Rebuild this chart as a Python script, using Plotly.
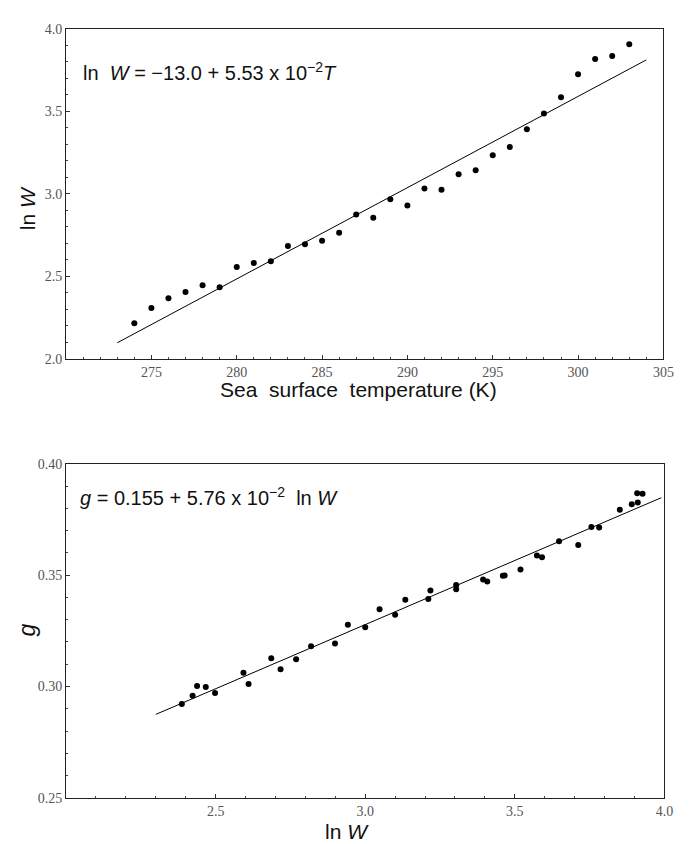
import plotly.graph_objects as go

W, H = 691, 844

# ---- Top panel data: sea surface temperature (K) vs ln W ----
sst_K = [274, 275, 276, 277, 278, 279, 280, 281, 282, 283, 284, 285, 286, 287, 288,
         289, 290, 291, 292, 293, 294, 295, 296, 297, 298, 299, 300, 301, 302, 303]
lnW_top = [2.216, 2.308, 2.367, 2.405, 2.446, 2.433, 2.556, 2.581, 2.591, 2.683,
           2.694, 2.716, 2.764, 2.875, 2.855, 2.966, 2.929, 3.032, 3.024, 3.119,
           3.143, 3.234, 3.284, 3.391, 3.486, 3.585, 3.724, 3.817, 3.835, 3.906]
fit_top_T = [273, 304]
fit_top_a, fit_top_b = -13.0, 5.53e-2

# ---- Bottom panel data: ln W vs g ----
lnW_bot = [2.387, 2.423, 2.438, 2.467, 2.498, 2.593, 2.610, 2.686, 2.717, 2.769,
           2.819, 2.899, 2.942, 3.000, 3.048, 3.100, 3.134, 3.211, 3.218, 3.304,
           3.304, 3.394, 3.408, 3.460, 3.466, 3.519, 3.574, 3.591, 3.648, 3.712,
           3.756, 3.782, 3.851, 3.891, 3.911, 3.909, 3.927]
g_bot = [0.2921, 0.2958, 0.3002, 0.2998, 0.2971, 0.3062, 0.3011, 0.3127, 0.3078, 0.3122,
         0.3181, 0.3193, 0.3277, 0.3266, 0.3347, 0.3322, 0.3390, 0.3393, 0.3431, 0.3456,
         0.3437, 0.3481, 0.3472, 0.3497, 0.3499, 0.3526, 0.3589, 0.3581, 0.3652, 0.3636,
         0.3717, 0.3714, 0.3794, 0.3819, 0.3827, 0.3868, 0.3866]
fit_bot_x = [2.30, 3.99]
fit_bot_a, fit_bot_b = 0.155, 5.76e-2

top_xticks = [275, 280, 285, 290, 295, 300, 305]
top_yticks = [2.0, 2.5, 3.0, 3.5, 4.0]
bot_xticks = [2.5, 3.0, 3.5, 4.0]
bot_yticks = [0.25, 0.30, 0.35, 0.40]


def px(x):
    return x / W


def py(y):
    return 1 - y / H


fig = go.Figure()
fig.add_trace(go.Scatter(x=sst_K, y=lnW_top, mode="markers",
                         marker=dict(color="black", size=6), xaxis="x", yaxis="y"))
fig.add_trace(go.Scatter(x=fit_top_T, y=[fit_top_a + fit_top_b * t for t in fit_top_T],
                         mode="lines", line=dict(color="black", width=1), xaxis="x", yaxis="y"))
fig.add_trace(go.Scatter(x=lnW_bot, y=g_bot, mode="markers",
                         marker=dict(color="black", size=6), xaxis="x2", yaxis="y2"))
fig.add_trace(go.Scatter(x=fit_bot_x, y=[fit_bot_a + fit_bot_b * v for v in fit_bot_x],
                         mode="lines", line=dict(color="black", width=1), xaxis="x2", yaxis="y2"))

tickfont = dict(family="Liberation Serif, Times New Roman, serif", size=14, color="#555")
axis_common = dict(showline=True, linecolor="#222", linewidth=1, mirror=True,
                   showgrid=False, zeroline=False, ticks="inside", ticklen=4,
                   tickcolor="#333", tickfont=tickfont)

fig.update_layout(
    width=W, height=H, margin=dict(l=0, r=0, t=0, b=0),
    paper_bgcolor="white", plot_bgcolor="white", showlegend=False,
    xaxis=dict(domain=[px(59), px(666)], range=[270, 305], anchor="y",
               tickvals=top_xticks, ticktext=[str(v) for v in top_xticks],
               minor=dict(dtick=1, ticks="inside", ticklen=2, tickcolor="#444"),
               **axis_common),
    yaxis=dict(domain=[py(350), py(14)], range=[2.0, 4.0], anchor="x",
               tickvals=top_yticks, ticktext=["%.1f" % v for v in top_yticks],
               minor=dict(dtick=0.1, ticks="inside", ticklen=2, tickcolor="#444"),
               **axis_common),
    xaxis2=dict(domain=[px(59), px(667)], range=[2.0, 4.0], anchor="y2",
                tickvals=bot_xticks, ticktext=["%.1f" % v for v in bot_xticks],
                minor=dict(dtick=0.1, ticks="inside", ticklen=2, tickcolor="#444"),
                **axis_common),
    yaxis2=dict(domain=[py(797), py(457)], range=[0.25, 0.40], anchor="x2",
                tickvals=bot_yticks, ticktext=["%.2f" % v for v in bot_yticks],
                minor=dict(dtick=0.01, ticks="inside", ticklen=2, tickcolor="#444"),
                **axis_common),
)

sans = "Liberation Sans, Arial, sans-serif"
ann = [
    dict(x=px(74), y=py(58), xanchor="left", yanchor="middle",
         text="ln  <i>W</i> = −13.0 + 5.53 x 10<sup>−2</sup><i>T</i>",
         font=dict(family=sans, size=20, color="#111")),
    dict(x=px(71), y=py(490), xanchor="left", yanchor="middle",
         text="<i>g</i> = 0.155 + 5.76 x 10<sup>−2</sup>  ln <i>W</i>",
         font=dict(family=sans, size=20, color="#111")),
    dict(x=px(356), y=py(381), xanchor="center", yanchor="middle",
         text="Sea  surface  temperature (K)",
         font=dict(family=sans, size=21, color="#111")),
    dict(x=px(20), y=py(197), xanchor="center", yanchor="middle", textangle=-90,
         text="ln <i>W</i>", font=dict(family=sans, size=21, color="#111")),
    dict(x=px(344), y=py(831), xanchor="center", yanchor="middle",
         text="ln <i>W</i>", font=dict(family=sans, size=21, color="#111")),
    dict(x=px(19), y=py(626), xanchor="center", yanchor="middle", textangle=-90,
         text="<i>g</i>", font=dict(family=sans, size=23, color="#111")),
]
for a in ann:
    a.update(xref="paper", yref="paper", showarrow=False)
fig.update_layout(annotations=ann)

fig.write_html("out.html")
